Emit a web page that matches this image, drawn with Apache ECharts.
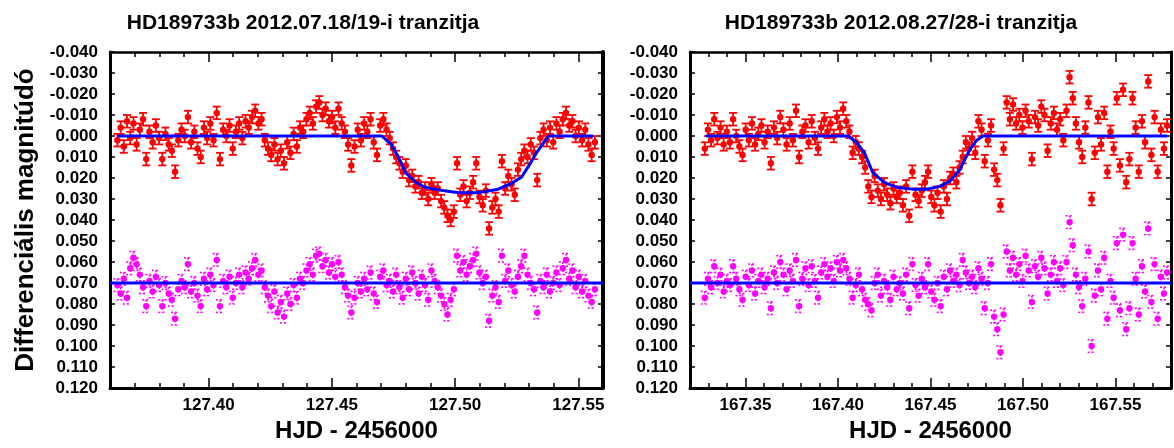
<!DOCTYPE html>
<html>
<head>
<meta charset="utf-8">
<script src="https://cdn.jsdelivr.net/npm/echarts@6/dist/echarts.min.js"></script>
<style>html,body{margin:0;padding:0;background:#fff}#main{width:1174px;height:448px}</style>
</head>
<body>
<div id="main"></div>
<script>
// 2012.07.18/19 transit (HJD - 2456000)
var timesA = [127.3630,127.3643,127.3656,127.3669,127.3682,127.3695,127.3708,127.3721,127.3734,127.3747,
  127.3760,127.3773,127.3786,127.3799,127.3812,127.3825,127.3838,127.3851,127.3864,127.3877,
  127.3890,127.3903,127.3916,127.3929,127.3942,127.3955,127.3968,127.3981,127.3994,127.4007,
  127.4020,127.4033,127.4046,127.4059,127.4072,127.4085,127.4098,127.4111,127.4124,127.4137,
  127.4150,127.4163,127.4176,127.4189,127.4202,127.4215,127.4228,127.4241,127.4254,127.4267,
  127.4280,127.4293,127.4306,127.4319,127.4332,127.4345,127.4358,127.4371,127.4384,127.4397,
  127.4410,127.4423,127.4436,127.4449,127.4462,127.4475,127.4488,127.4501,127.4514,127.4527,
  127.4540,127.4553,127.4566,127.4579,127.4592,127.4605,127.4618,127.4631,127.4644,127.4657,
  127.4670,127.4683,127.4696,127.4709,127.4722,127.4735,127.4748,127.4761,127.4774,127.4787,
  127.4800,127.4813,127.4826,127.4839,127.4852,127.4865,127.4878,127.4891,127.4904,127.4917,
  127.4930,127.4943,127.4956,127.4969,127.4982,127.4995,127.5008,127.5021,127.5034,127.5047,
  127.5060,127.5073,127.5086,127.5099,127.5112,127.5125,127.5138,127.5151,127.5164,127.5177,
  127.5190,127.5203,127.5216,127.5229,127.5242,127.5255,127.5268,127.5281,127.5294,127.5307,
  127.5320,127.5333,127.5346,127.5359,127.5372,127.5385,127.5398,127.5411,127.5424,127.5437,
  127.5450,127.5463,127.5476,127.5489,127.5502,127.5515,127.5528,127.5541,127.5554,127.5567];
var targetA = [0.002,-0.004,0.005,-0.007,0.001,-0.006,0.004,-0.003,-0.008,0.011,
  -0.002,0.003,-0.005,0.001,0.011,-0.001,0.004,0.007,0.017,0.002,
  -0.003,0.000,-0.009,0.003,-0.002,0.006,0.010,-0.004,0.001,-0.006,
  0.002,-0.011,0.011,-0.003,0.000,-0.005,0.006,-0.002,-0.006,0.001,
  -0.007,-0.004,-0.009,-0.012,-0.006,-0.008,0.002,0.006,0.009,0.004,
  0.011,0.007,0.013,0.003,0.008,-0.001,0.005,-0.004,-0.002,-0.008,
  -0.011,-0.006,-0.014,-0.016,-0.010,-0.013,-0.007,-0.009,-0.004,-0.013,
  -0.006,-0.002,0.004,0.014,0.005,-0.003,0.002,-0.006,-0.002,-0.008,
  0.003,0.009,-0.005,-0.008,-0.003,0.001,0.006,0.010,0.013,0.017,
  0.014,0.021,0.019,0.024,0.022,0.027,0.025,0.030,0.023,0.027,
  0.025,0.031,0.034,0.038,0.040,0.036,0.013,0.028,0.024,0.031,
  0.027,0.022,0.013,0.029,0.033,0.026,0.044,0.034,0.030,0.036,
  0.012,0.025,0.019,0.023,0.028,0.016,0.011,0.007,0.010,0.004,
  0.008,0.021,0.001,-0.003,0.002,-0.004,0.003,-0.006,-0.002,-0.008,
  -0.011,-0.005,-0.007,0.000,-0.004,0.002,-0.003,0.004,0.009,0.003];
var compA = [0.071,0.075,0.068,0.077,0.063,0.058,0.061,0.066,0.072,0.081,
  0.069,0.074,0.067,0.071,0.081,0.070,0.075,0.078,0.087,0.073,
  0.069,0.072,0.061,0.074,0.070,0.076,0.081,0.068,0.073,0.066,
  0.071,0.059,0.081,0.069,0.072,0.067,0.077,0.070,0.066,0.072,
  0.065,0.068,0.063,0.059,0.066,0.064,0.072,0.076,0.081,0.074,
  0.084,0.079,0.086,0.075,0.080,0.071,0.077,0.068,0.070,0.064,
  0.061,0.066,0.057,0.056,0.062,0.059,0.065,0.061,0.067,0.060,
  0.066,0.072,0.076,0.084,0.077,0.070,0.074,0.068,0.073,0.065,
  0.075,0.079,0.067,0.064,0.071,0.069,0.074,0.066,0.072,0.077,
  0.068,0.073,0.065,0.070,0.075,0.067,0.071,0.078,0.064,0.069,
  0.072,0.076,0.080,0.085,0.078,0.073,0.057,0.064,0.060,0.066,
  0.062,0.059,0.056,0.065,0.070,0.067,0.088,0.076,0.072,0.079,
  0.057,0.069,0.064,0.071,0.074,0.067,0.062,0.057,0.066,0.070,
  0.073,0.084,0.069,0.072,0.066,0.074,0.070,0.065,0.071,0.063,
  0.059,0.068,0.064,0.072,0.067,0.074,0.069,0.076,0.079,0.073];
var modelAX = [127.3630,127.4703,127.4740,127.4770,127.4799,127.4840,127.4880,127.4950,127.5015,
  127.5090,127.5170,127.5230,127.5270,127.5300,127.5330,127.5360,127.5380,127.5560];
var modelAY = [0.000,0.000,0.004,0.010,0.0175,0.022,0.0245,0.026,0.027,
  0.027,0.0255,0.0225,0.0195,0.014,0.008,0.003,0.000,0.000];
var flatAX = [127.36, 127.56];
var flatAY = [0.070, 0.070];

// 2012.08.27/28 transit
var timesB = [167.3280,167.3297,167.3314,167.3331,167.3348,167.3365,167.3382,167.3399,167.3416,167.3433,
  167.3450,167.3467,167.3484,167.3501,167.3518,167.3535,167.3552,167.3569,167.3586,167.3603,
  167.3620,167.3637,167.3654,167.3671,167.3688,167.3705,167.3722,167.3739,167.3756,167.3773,
  167.3790,167.3807,167.3824,167.3841,167.3858,167.3875,167.3892,167.3909,167.3926,167.3943,
  167.3960,167.3977,167.3994,167.4011,167.4028,167.4045,167.4062,167.4079,167.4096,167.4113,
  167.4130,167.4147,167.4164,167.4181,167.4198,167.4215,167.4232,167.4249,167.4266,167.4283,
  167.4300,167.4317,167.4334,167.4351,167.4368,167.4385,167.4402,167.4419,167.4436,167.4453,
  167.4470,167.4487,167.4504,167.4521,167.4538,167.4555,167.4572,167.4589,167.4606,167.4623,
  167.4640,167.4657,167.4674,167.4691,167.4708,167.4725,167.4742,167.4759,167.4776,167.4793,
  167.4810,167.4827,167.4844,167.4861,167.4878,167.4895,167.4912,167.4929,167.4946,167.4963,
  167.4980,167.4997,167.5014,167.5031,167.5048,167.5065,167.5082,167.5099,167.5116,167.5133,
  167.5150,167.5167,167.5184,167.5201,167.5218,167.5235,167.5252,167.5269,167.5286,167.5303,
  167.5320,167.5337,167.5354,167.5371,167.5388,167.5405,167.5422,167.5439,167.5456,167.5473,
  167.5490,167.5507,167.5524,167.5541,167.5558,167.5575,167.5592,167.5609,167.5626,167.5643,
  167.5660,167.5677,167.5694,167.5711,167.5728,167.5745,167.5762,167.5779];
var targetB = [0.006,-0.003,0.002,-0.008,0.001,-0.004,0.004,-0.002,0.003,-0.008,
  0.000,0.005,0.009,-0.003,0.002,-0.006,0.004,-0.001,-0.005,0.003,
  -0.002,0.013,-0.004,0.001,-0.009,-0.003,0.004,-0.006,0.002,-0.012,
  0.010,-0.002,-0.005,0.003,-0.007,0.001,0.006,-0.004,-0.008,-0.002,
  -0.006,0.000,-0.009,-0.004,-0.013,-0.007,-0.002,0.008,0.003,0.006,
  0.010,0.015,0.024,0.029,0.019,0.026,0.030,0.023,0.028,0.032,
  0.025,0.029,0.027,0.033,0.024,0.038,0.017,0.028,0.031,0.026,
  0.022,0.017,0.029,0.033,0.027,0.036,0.024,0.030,0.020,0.018,
  0.022,0.015,0.010,0.003,0.006,0.001,0.008,-0.007,-0.003,0.012,
  0.002,-0.005,0.016,0.021,0.033,0.006,-0.016,-0.008,-0.015,-0.006,
  -0.010,-0.004,-0.012,-0.007,0.011,-0.009,-0.005,-0.014,-0.010,0.007,
  -0.006,-0.011,-0.003,-0.008,0.002,-0.012,-0.028,-0.018,-0.006,0.003,
  0.010,-0.004,-0.016,0.030,0.008,-0.009,0.004,-0.011,0.017,-0.002,
  0.006,-0.018,0.014,-0.022,0.022,0.011,-0.018,-0.004,0.017,-0.007,
  0.003,-0.026,0.009,-0.009,0.017,-0.003,0.006,-0.005];
var compB = [0.077,0.068,0.072,0.062,0.070,0.066,0.074,0.069,0.071,0.062,
  0.068,0.073,0.078,0.067,0.071,0.064,0.075,0.069,0.066,0.072,
  0.068,0.082,0.065,0.070,0.060,0.066,0.073,0.064,0.069,0.059,
  0.081,0.068,0.063,0.071,0.062,0.069,0.077,0.065,0.061,0.067,
  0.063,0.069,0.060,0.064,0.059,0.063,0.068,0.077,0.071,0.066,
  0.073,0.078,0.080,0.083,0.070,0.066,0.076,0.069,0.072,0.078,
  0.067,0.073,0.070,0.075,0.066,0.082,0.061,0.071,0.076,0.068,
  0.072,0.061,0.074,0.078,0.070,0.081,0.067,0.073,0.064,0.069,
  0.066,0.071,0.059,0.065,0.070,0.067,0.072,0.063,0.068,0.082,
  0.070,0.061,0.086,0.092,0.103,0.085,0.055,0.064,0.058,0.066,
  0.061,0.069,0.057,0.064,0.079,0.062,0.067,0.058,0.063,0.075,
  0.066,0.060,0.069,0.063,0.071,0.060,0.041,0.052,0.066,0.072,
  0.081,0.068,0.055,0.100,0.076,0.064,0.073,0.058,0.087,0.069,
  0.077,0.051,0.083,0.047,0.092,0.082,0.051,0.068,0.085,0.062,
  0.074,0.044,0.079,0.061,0.087,0.067,0.075,0.065];
var modelBX = [167.3285,167.4055,167.4100,167.4143,167.4188,167.4251,167.4322,167.4400,167.4483,
  167.4550,167.4606,167.4659,167.4713,167.4750,167.4784,167.5780];
var modelBY = [0.000,0.000,0.003,0.008,0.0174,0.0222,0.0245,0.0253,0.0253,
  0.024,0.0214,0.0159,0.0064,0.002,0.000,0.000];
var flatBX = [167.32, 167.58];
var flatBY = [0.070, 0.070];

var majorsA = [127.40, 127.45, 127.50, 127.55];
var majorsB = [167.35, 167.40, 167.45, 167.50, 167.55];
var titles = ['HD189733b 2012.07.18/19-i tranzitja', 'HD189733b 2012.08.27/28-i tranzitja'];
var magErr = 0.003;

var FONT = 'Liberation Sans';

function pairs(xs, ys) {
  return xs.map(function (x, i) { return [x, ys[i]]; });
}

function errorBars(color, dashed) {
  return function (params, api) {
    var x = api.value(0), y = api.value(1);
    var c = api.coord([x, y]);
    var t = api.coord([x, y - magErr]);
    var b = api.coord([x, y + magErr]);
    var w = 4;
    function st() { return {stroke: color, lineWidth: dashed ? 1.6 : 1.8, lineDash: dashed ? [2, 2] : null}; }
    return {
      type: 'group',
      children: [
        {type: 'line', shape: {x1: c[0], y1: t[1], x2: c[0], y2: b[1]}, style: st()},
        {type: 'line', shape: {x1: c[0] - w, y1: t[1], x2: c[0] + w, y2: t[1]}, style: st()},
        {type: 'line', shape: {x1: c[0] - w, y1: b[1], x2: c[0] + w, y2: b[1]}, style: st()},
        {type: 'circle', shape: {cx: c[0], cy: c[1], r: 3.2}, style: {fill: color}}
      ]
    };
  };
}

function yFmt(v) { return Math.abs(v) < 1e-9 ? '0.000' : v.toFixed(3); }
function xFmt(v) { return Math.round(v * 100) % 5 === 0 ? v.toFixed(2) : ''; }

var black = {color: '#000', width: 3};
var tickStyle = {color: '#000', width: 1.5};
var tickFont = {color: '#000', fontFamily: FONT, fontSize: 17, fontWeight: 'bold'};

function xAxesFor(gi, min, max, majors) {
  var base = {gridIndex: gi, type: 'value', min: min, max: max, splitLine: {show: false}};
  return [
    Object.assign({}, base, {
      position: 'bottom', interval: 0.01,
      axisLine: {onZero: false, lineStyle: black},
      axisTick: {inside: true, length: 5, lineStyle: tickStyle},
      axisLabel: Object.assign({formatter: xFmt, margin: 9}, tickFont),
      name: 'HJD - 2456000', nameLocation: 'middle', nameGap: 31,
      nameTextStyle: {color: '#000', fontFamily: FONT, fontSize: 24, fontWeight: 'bold'}
    }),
    Object.assign({}, base, {
      position: 'bottom', axisLine: {show: false, onZero: false}, axisLabel: {show: false},
      axisTick: {inside: true, length: 10, customValues: majors, lineStyle: tickStyle}
    }),
    Object.assign({}, base, {
      position: 'top', interval: 0.01,
      axisLine: {onZero: false, lineStyle: {color: '#000', width: 2.5}},
      axisTick: {inside: true, length: 5, lineStyle: tickStyle},
      axisLabel: {show: false}
    }),
    Object.assign({}, base, {
      position: 'top', axisLine: {show: false, onZero: false}, axisLabel: {show: false},
      axisTick: {inside: true, length: 10, customValues: majors, lineStyle: tickStyle}
    })
  ];
}

function yAxesFor(gi, withName, rightWidth) {
  var base = {gridIndex: gi, type: 'value', min: -0.04, max: 0.12, interval: 0.01, inverse: true,
    splitLine: {show: false}};
  var left = Object.assign({}, base, {
    position: 'left',
    axisLine: {onZero: false, lineStyle: black},
    axisTick: {inside: true, length: 5, lineStyle: tickStyle},
    axisLabel: Object.assign({formatter: yFmt, margin: 12}, tickFont)
  });
  if (withName) {
    Object.assign(left, {
      name: 'Differenciális magnitúdó', nameLocation: 'middle', nameGap: 71, nameRotate: 90,
      nameTextStyle: {color: '#000', fontFamily: FONT, fontSize: 26, fontWeight: 'bold'}
    });
  }
  var right = Object.assign({}, base, {
    position: 'right',
    axisLine: {onZero: false, lineStyle: {color: '#000', width: rightWidth}},
    axisTick: {inside: true, length: 5, lineStyle: tickStyle},
    axisLabel: {show: false}
  });
  return [left, right];
}

function seriesFor(xi, yi, times, target, comp, mx, my, fx, fy) {
  var lineBase = {type: 'line', xAxisIndex: xi, yAxisIndex: yi, showSymbol: false, symbol: 'none',
    lineStyle: {color: '#0000ff', width: 3}, z: 5, silent: true};
  return [
    {type: 'custom', xAxisIndex: xi, yAxisIndex: yi, data: pairs(times, comp),
      renderItem: errorBars('#ff00ff', true), clip: true, z: 2},
    {type: 'custom', xAxisIndex: xi, yAxisIndex: yi, data: pairs(times, target),
      renderItem: errorBars('#ff0000', false), clip: true, z: 3},
    Object.assign({}, lineBase, {data: pairs(mx, my)}),
    Object.assign({}, lineBase, {data: pairs(fx, fy)})
  ];
}

var chart = echarts.init(document.getElementById('main'));
chart.setOption({
  animation: false,
  backgroundColor: '#fff',
  title: [
    {text: titles[0], left: 298, top: 8, textAlign: 'center',
      textStyle: {color: '#000', fontFamily: FONT, fontSize: 21, fontWeight: 'bold'}},
    {text: titles[1], left: 896, top: 8, textAlign: 'center',
      textStyle: {color: '#000', fontFamily: FONT, fontSize: 21, fontWeight: 'bold'}}
  ],
  grid: [
    {left: 110, top: 52, width: 493, height: 343},
    {left: 690, top: 52, width: 486, height: 338}
  ],
  xAxis: xAxesFor(0, 127.36, 127.56, majorsA).concat(xAxesFor(1, 167.32, 167.58, majorsB)),
  yAxis: yAxesFor(0, true, 4).concat(yAxesFor(1, false, 3)),
  series: seriesFor(0, 0, timesA, targetA, compA, modelAX, modelAY, flatAX, flatAY)
    .concat(seriesFor(4, 2, timesB, targetB, compB, modelBX, modelBY, flatBX, flatBY))
});
</script>
</body>
</html>
